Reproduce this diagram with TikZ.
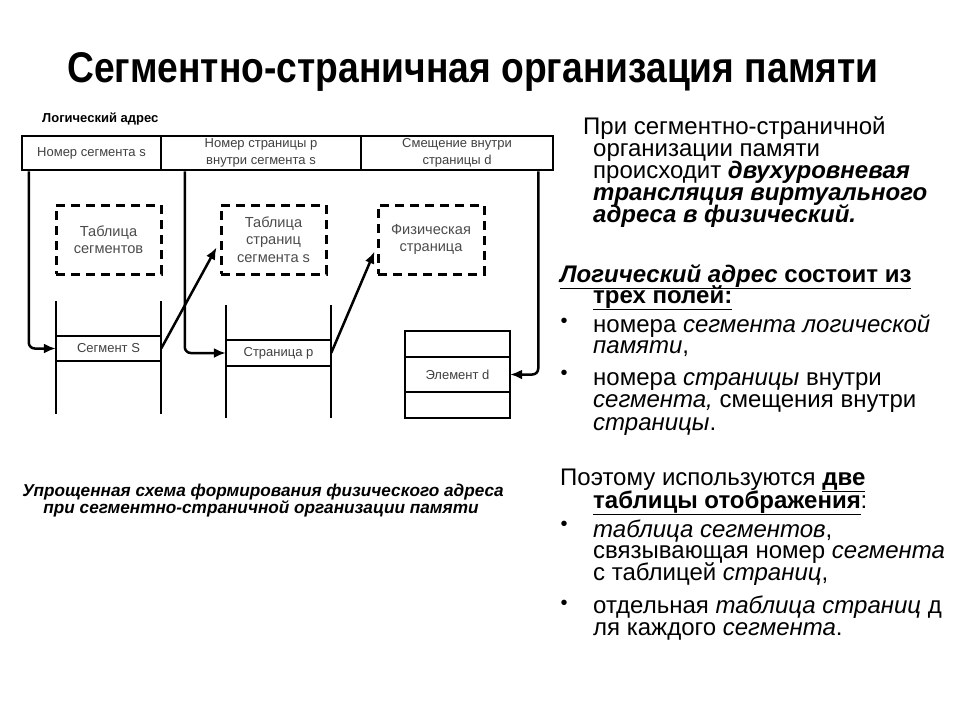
\documentclass[tikz,border=0pt]{standalone}
\usepackage{fontspec}
\setmainfont{Liberation Sans}
\usetikzlibrary{arrows.meta,calc}
\begin{document}
\begin{tikzpicture}[x=1pt,y=-1pt,
  cell/.style={draw,line width=2.5pt,inner sep=0pt,align=center,minimum height=34pt,font=\fontsize{13}{17}\selectfont,text=black!75},
  dbox/.style={draw,line width=3pt,dash pattern=on 9pt off 6pt,inner sep=0pt,align=center,minimum width=105pt,minimum height=69pt,font=\fontsize{14.6}{17.5}\selectfont,text=black!70},
  row/.style={inner sep=0pt,minimum width=105pt,font=\fontsize{13}{15}\selectfont,text=black!75},
  wall/.style={line width=2.5pt},
  conn/.style={line width=2.5pt,-{Latex[length=12pt,width=10pt]},rounded corners=6pt},
  txt/.style={anchor=base west,inner sep=0pt,font=\fontsize{24}{22}\selectfont},
  bul/.style={anchor=base,inner sep=0pt,font=\fontsize{20}{20}\selectfont},
  captext/.style={anchor=base,inner sep=0pt,font=\fontsize{17.2}{18}\selectfont\bfseries\itshape}
]
\useasboundingbox (0,0) rectangle (960,720);
\fill[white] (0,0) rectangle (960,720);

% title
\node[anchor=base west,inner sep=0pt] (title) at (67,82)
  {\resizebox{811pt}{30pt}{\bfseries Сегментно-страничная организация памяти}};

% logical address
\node[anchor=base west,inner sep=0pt,font=\fontsize{13}{13}\selectfont\bfseries] (la) at (42,122) {Логический адрес};
\node[cell,minimum width=139pt] (c1) at (91.5,153) {Номер сегмента s};
\node[cell,minimum width=200pt] (c2) at (261,153) {Номер страницы p\\внутри сегмента s};
\node[cell,minimum width=192pt] (c3) at (457,153) {Смещение внутри\\страницы d};

% dashed tables
\node[dbox] (segtab) at (108.5,239.5) {Таблица\\сегментов};
\node[dbox] (pagetab) at (273.5,239.5) {Таблица\\страниц\\сегмента s};
\node[dbox,minimum width=106pt] (phystab) at (431,239.5) {Физическая\\страница};

% segment table
\draw[wall] (56,301) -- (56,414) (161,301) -- (161,414);
\node[row,minimum height=25pt] (segrow) at (108.5,348.5) {Сегмент S};
\draw[wall] (segrow.north west) -- (segrow.north east) (segrow.south west) -- (segrow.south east);

% page table
\draw[wall] (226,305) -- (226,418) (331,305) -- (331,418);
\node[row,minimum height=26pt] (pagerow) at (278.5,353) {Страница p};
\draw[wall] (pagerow.north west) -- (pagerow.north east) (pagerow.south west) -- (pagerow.south east);

% physical page
\node[draw,line width=2.5pt,minimum width=105pt,minimum height=87pt,inner sep=0pt] (phys) at (457.5,374.5) {};
\node[row,minimum height=35pt] (elemrow) at (457.5,374.5) {Элемент d};
\draw[wall] (elemrow.north west) -- (elemrow.north east) (elemrow.south west) -- (elemrow.south east);

% connectors
\draw[conn] ($(c1.south west)+(8,0)$) |- (segrow.west);
\draw[conn] ($(c2.south west)+(25,0)$) |- (pagerow.west);
\draw[conn] ($(c3.south east)+(-16,0)$) |- (elemrow.east);
\draw[conn] (segrow.east) -- ($(pagetab.west)+(-3,8)$);
\draw[conn] (pagerow.east) -- ($(phystab.west)+(-2,12)$);

% caption
\node[captext] (cap1) at (263,496) {Упрощенная схема формирования физического адреса};
\node[captext] (cap2) at (261,513) {при сегментно-страничной организации памяти};

% right text
\node[txt] (t1) at (583,134) {При сегментно-страничной};
\node[txt] (t2) at (593,156) {организации памяти};
\node[txt] (t3) at (593,178) {происходит \textbf{\textit{двухуровневая}}};
\node[txt] (t4) at (593,200) {\textbf{\textit{трансляция виртуального}}};
\node[txt] (t5) at (593,222) {\textbf{\textit{адреса в физический.}}};

\node[txt] (t6) at (560,282) {\underline{\textbf{\textit{Логический адрес}} \textbf{состоит из}}};
\node[txt] (t7) at (593,303) {\underline{\textbf{трех полей:}}};
\node[bul] (b1) at (564,327) {•};
\node[txt] (t8) at (593,332) {номера \textit{сегмента  логической}};
\node[txt] (t9) at (593,353) {\textit{памяти},};
\node[bul] (b2) at (564,379) {•};
\node[txt] (t10) at (593,385) {номера \textit{страницы} внутри};
\node[txt] (t11) at (593,407) {\textit{сегмента,} смещения внутри};
\node[txt] (t12) at (593,430) {\textit{страницы}.};

\node[txt] (t13) at (560,485) {Поэтому используются \underline{\textbf{две}}};
\node[txt] (t14) at (593,508) {\underline{\textbf{таблицы отображения}}:};
\node[bul] (b3) at (564,530) {•};
\node[txt] (t15) at (593,537) {\textit{таблица сегментов},};
\node[txt] (t16) at (593,558) {связывающая номер \textit{сегмента}};
\node[txt] (t17) at (593,580) {с таблицей \textit{страниц},};
\node[bul] (b4) at (564,609) {•};
\node[txt] (t18) at (593,613) {отдельная \textit{таблица страниц} д};
\node[txt] (t19) at (593,635) {ля каждого \textit{сегмента}.};
\end{tikzpicture}
\end{document}
